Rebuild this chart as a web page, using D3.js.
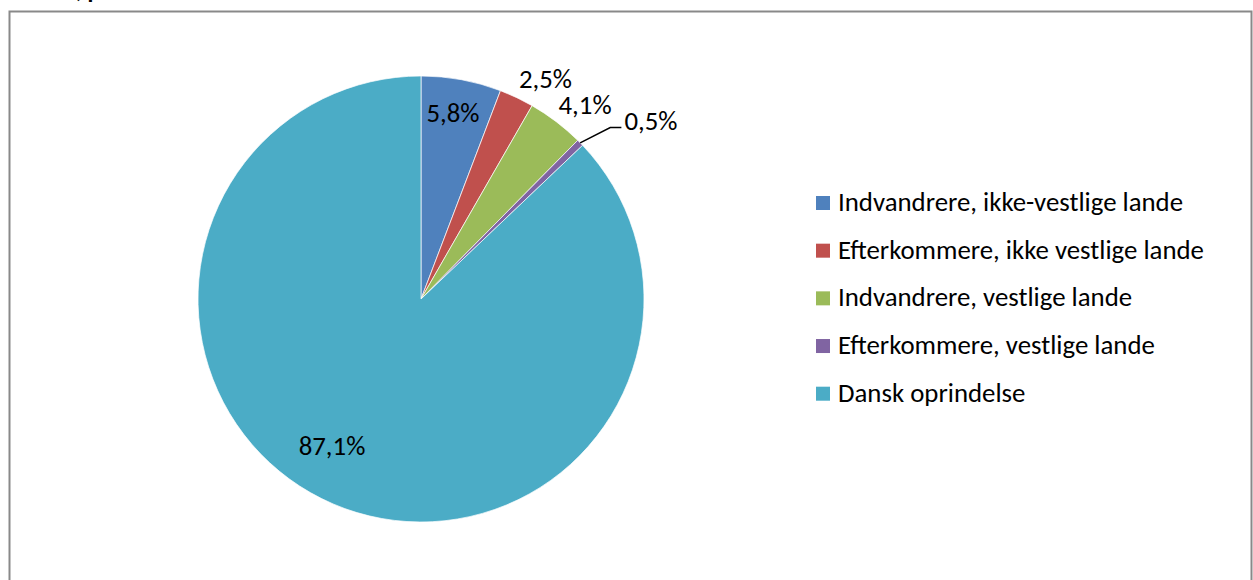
<!DOCTYPE html>
<html><head><meta charset="utf-8">
<script src="https://cdn.jsdelivr.net/npm/d3@7/dist/d3.min.js"></script>
<style>
html,body{margin:0;padding:0;background:#fff;overflow:hidden}
text{font-family:Carlito, Calibri, Lato, "Open Sans", sans-serif;fill:#000}
</style></head>
<body><svg id="c" width="1253" height="580"></svg>
<script>
const categories = ["Indvandrere, ikke-vestlige lande","Efterkommere, ikke vestlige lande","Indvandrere, vestlige lande","Efterkommere, vestlige lande","Dansk oprindelse"];
const values = [5.8, 2.5, 4.1, 0.5, 87.1];
const valueLabels = ["5,8%","2,5%","4,1%","0,5%","87,1%"];
const colors = ["#4F81BD","#C0504D","#9BBB59","#8064A2","#4BACC6"];
// label placement (radius factor, angle offset in rad) - layout only
const labelRadius = [0.848, 1.137, 1.143, 1.305, 0.767];
const labelAngleOffset = [-0.012, 0.07, 0.049, 0.116, 0.142];

const svg = d3.select("#c");
const W = 1253, H = 580;

// partially visible title above the frame
svg.append("text").attr("x",76).attr("y",-2).attr("font-weight","bold").attr("font-size",24).text(", p");

// frame
svg.append("rect").attr("x",9.5).attr("y",11.5).attr("width",1242).attr("height",600)
  .attr("fill","none").attr("stroke","#898989").attr("stroke-width",2);

// font fitting: longest legend label ~366px wide at reference
const probe = svg.append("text").attr("font-size",24).text(categories[1]);
const w24 = probe.node().getComputedTextLength();
probe.remove();
const fs = 24 * 366 / w24;

const cx = 421, cy = 299, R = 223;
const pie = d3.pie().sort(null).value(d=>d).startAngle(0).endAngle(2*Math.PI);
const arcs = pie(values);
const arc = d3.arc().innerRadius(0).outerRadius(R);
const g = svg.append("g").attr("transform",`translate(${cx},${cy})`);
g.selectAll("path").data(arcs).join("path")
  .attr("d",arc).attr("fill",(d,i)=>colors[i]).attr("stroke","#fff").attr("stroke-width",0.7);

const mid = d => (d.startAngle + d.endAngle)/2;
arcs.forEach((d,i)=>{
  const a = mid(d) + labelAngleOffset[i];
  const r = R*labelRadius[i];
  const x = r*Math.sin(a), y = -r*Math.cos(a);
  const t = g.append("text").attr("font-size",fs).attr("text-anchor","middle")
    .attr("x",x).attr("y",y).attr("dy","0.36em").text(valueLabels[i]);
  if (i === 3) {
    const m = mid(d);
    const p0 = [R*Math.sin(m), -R*Math.cos(m)];
    const re = R*1.145, ae = m + 0.04;
    const p1 = [re*Math.sin(ae), -re*Math.cos(ae)];
    const tw = t.node().getComputedTextLength();
    const p2 = [x - tw/2 - 3, p1[1]];
    g.append("polyline").attr("points",[p0,p1,p2].map(p=>p.join(",")).join(" "))
      .attr("fill","none").attr("stroke","#000").attr("stroke-width",1.5);
  }
});

// legend
const lg = svg.append("g");
const rowY = d3.scaleLinear().domain([0,4]).range([211, 401.7]);
categories.forEach((c,i)=>{
  const y = rowY(i);
  lg.append("rect").attr("x",816).attr("y",y-15).attr("width",14).attr("height",14).attr("fill",colors[i]);
  lg.append("text").attr("x",838).attr("y",y).attr("font-size",fs).text(c);
});
</script></body></html>
